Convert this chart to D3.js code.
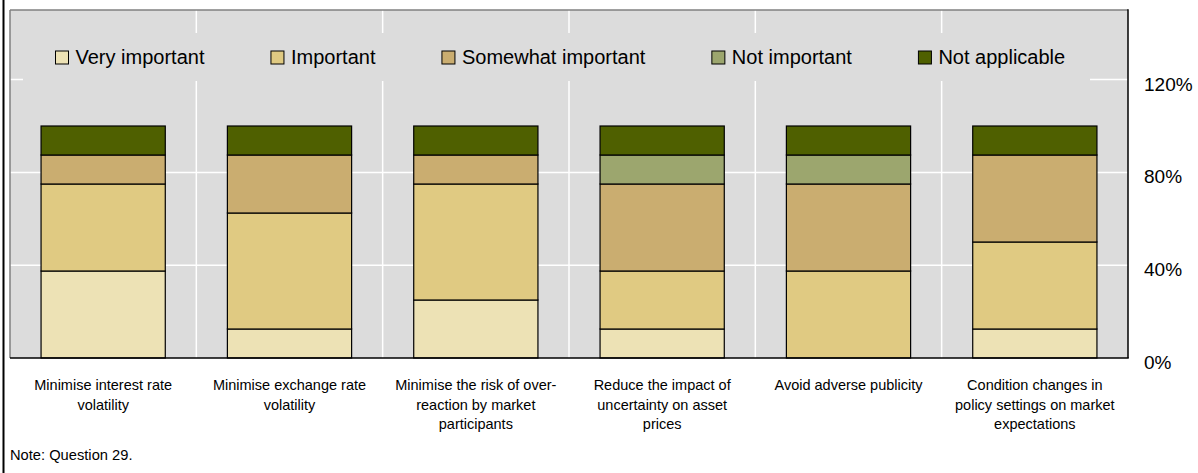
<!DOCTYPE html>
<html>
<head>
<meta charset="utf-8">
<script src="https://cdn.jsdelivr.net/npm/d3@7"></script>
<style>
  html, body { margin: 0; padding: 0; background: #fff; }
  svg { display: block; font-family: Arial, "Liberation Sans", sans-serif; }
</style>
</head>
<body>
<svg id="chart" width="1198" height="473"></svg>
<script>
// ---- data ----
const categories = [
  ["Minimise interest rate", "volatility"],
  ["Minimise exchange rate", "volatility"],
  ["Minimise the risk of over-", "reaction by market", "participants"],
  ["Reduce the impact of", "uncertainty on asset", "prices"],
  ["Avoid adverse publicity"],
  ["Condition changes in", "policy settings on market", "expectations"]
];
const seriesNames = ["Very important", "Important", "Somewhat important", "Not important", "Not applicable"];
const veryImportant     = [37.5, 12.5, 25,   12.5, 0,    12.5];
const important         = [37.5, 50,   50,   25,   37.5, 37.5];
const somewhatImportant = [12.5, 25,   12.5, 37.5, 37.5, 37.5];
const notImportant      = [0,    0,    0,    12.5, 12.5, 0];
const notApplicable     = [12.5, 12.5, 12.5, 12.5, 12.5, 12.5];
const yTicks = [0, 40, 80, 120];
const yMax = 150;
const note = "Note: Question 29.";
const colors = ["#EDE2B5", "#E0CA82", "#CAAD70", "#9CA66E", "#4F6000"];

// ---- build ----
const seriesValues = [veryImportant, important, somewhatImportant, notImportant, notApplicable];
const rows = categories.map((c, i) => {
  const r = { key: i };
  seriesNames.forEach((s, j) => r[s] = seriesValues[j][i]);
  return r;
});
const stacked = d3.stack().keys(seriesNames)(rows);

const svg = d3.select("#chart");
const plot = { left: 10, right: 1128, top: 10, bottom: 358 };

const x = d3.scaleBand()
  .domain(d3.range(categories.length))
  .range([plot.left, plot.right])
  .paddingInner(1/3)
  .paddingOuter(1/6);
const xStep = x.step();
const y = d3.scaleLinear().domain([0, yMax]).range([plot.bottom, plot.top]);

// outer left frame line
svg.append("line").attr("x1", 3.5).attr("x2", 3.5).attr("y1", 0).attr("y2", 473)
  .attr("stroke", "#000").attr("stroke-width", 2);

// plot background
svg.append("rect")
  .attr("x", plot.left).attr("y", plot.top)
  .attr("width", plot.right - plot.left).attr("height", plot.bottom - plot.top)
  .attr("fill", "#DCDCDC");

// vertical gridlines at category boundaries
const gridG = svg.append("g");
d3.range(1, categories.length).forEach(i => {
  const gx = plot.left + i * xStep;
  gridG.append("line").attr("x1", gx).attr("x2", gx)
    .attr("y1", plot.top).attr("y2", plot.bottom)
    .attr("stroke", "#fff").attr("stroke-width", 1.5);
});
// horizontal gridlines
yTicks.filter(t => t > 0).forEach(t => {
  gridG.append("line").attr("x1", plot.left).attr("x2", plot.right)
    .attr("y1", y(t)).attr("y2", y(t))
    .attr("stroke", "#fff").attr("stroke-width", 1.5);
});

// bars
const barsG = svg.append("g");
stacked.forEach((layer, j) => {
  barsG.append("g").selectAll("rect")
    .data(layer.filter(d => d[1] - d[0] > 0))
    .join("rect")
    .attr("x", d => x(d.data.key))
    .attr("width", x.bandwidth())
    .attr("y", d => y(d[1]))
    .attr("height", d => y(d[0]) - y(d[1]))
    .attr("fill", colors[j])
    .attr("stroke", "#000")
    .attr("stroke-width", 1.2);
});

// plot borders
svg.append("line").attr("x1", plot.left).attr("x2", plot.right).attr("y1", plot.top).attr("y2", plot.top)
  .attr("stroke", "#808080").attr("stroke-width", 1.5);
svg.append("line").attr("x1", plot.left).attr("x2", plot.left).attr("y1", plot.top).attr("y2", plot.bottom)
  .attr("stroke", "#808080").attr("stroke-width", 1.5);
svg.append("line").attr("x1", plot.right).attr("x2", plot.right).attr("y1", plot.top - 0.75).attr("y2", plot.bottom)
  .attr("stroke", "#000").attr("stroke-width", 1.5);
svg.append("line").attr("x1", plot.left).attr("x2", plot.right + 0.75).attr("y1", plot.bottom).attr("y2", plot.bottom)
  .attr("stroke", "#000").attr("stroke-width", 1.5);

// y axis (right) labels
const yAxis = d3.axisRight(y).tickValues(yTicks).tickFormat(d => d + "%").tickSize(0).tickPadding(0);
const yG = svg.append("g").attr("transform", `translate(${plot.right + 16},0)`).call(yAxis);
yG.select(".domain").remove();
yG.selectAll("text").attr("font-size", 19).attr("fill", "#000")
  .attr("font-family", "Arial, 'Liberation Sans', sans-serif").attr("dy", "0.55em");

// category labels
const catG = svg.append("g");
categories.forEach((lines, i) => {
  const t = catG.append("text")
    .attr("x", x(i) + x.bandwidth() / 2)
    .attr("y", 390)
    .attr("text-anchor", "middle")
    .attr("font-size", 14.5)
    .attr("fill", "#000");
  lines.forEach((ln, k) => {
    t.append("tspan").attr("x", x(i) + x.bandwidth() / 2).attr("dy", k === 0 ? 0 : 19.5).text(ln);
  });
});

// note
svg.append("text").attr("x", 10).attr("y", 460).attr("font-size", 14.7).attr("fill", "#000").text(note);

// legend
const legendBox = { x: 23, y: 33, w: 1067, h: 48 };
svg.append("rect").attr("x", legendBox.x).attr("y", legendBox.y)
  .attr("width", legendBox.w).attr("height", legendBox.h).attr("fill", "#DCDCDC");
const legG = svg.append("g");
let lx = 55.5;
seriesNames.forEach((name, j) => {
  const g = legG.append("g").attr("transform", `translate(${lx},0)`);
  g.append("rect").attr("x", 0).attr("y", 51).attr("width", 13).attr("height", 13)
    .attr("fill", colors[j]).attr("stroke", "#000").attr("stroke-width", 1);
  const t = g.append("text").attr("x", 20).attr("y", 64).attr("font-size", 20).attr("fill", "#000").text(name);
  lx += 20 + t.node().getComputedTextLength() + 66.5;
});
</script>
</body>
</html>
